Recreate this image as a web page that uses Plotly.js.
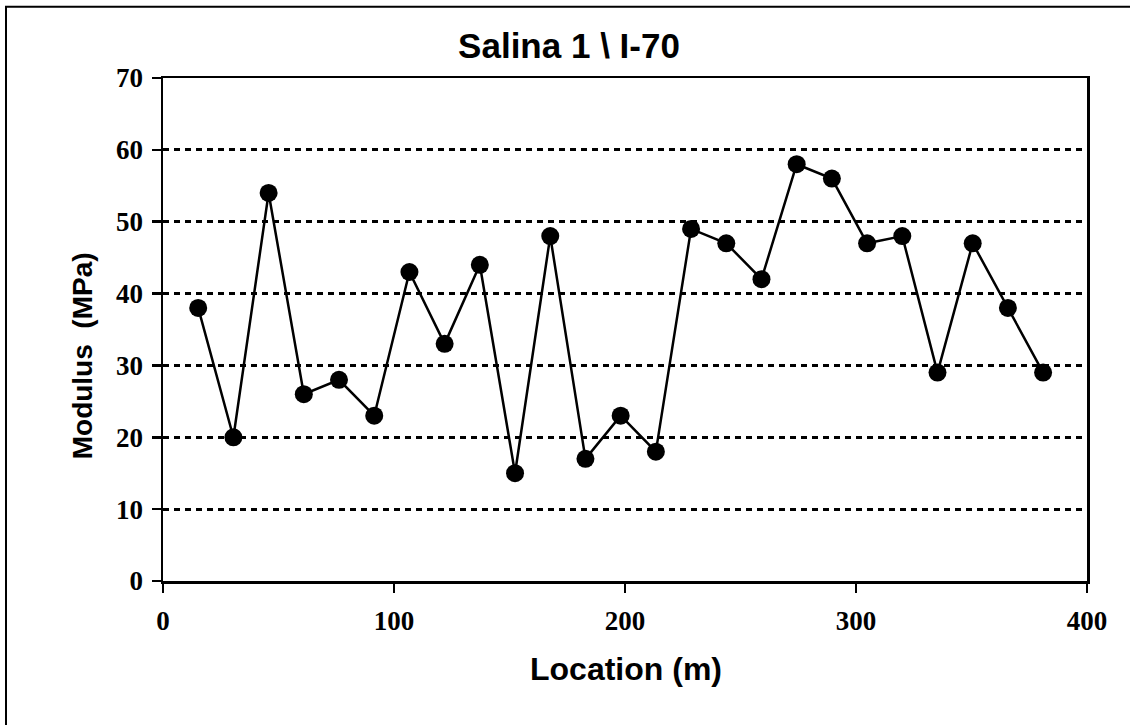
<!DOCTYPE html>
<html>
<head>
<meta charset="utf-8">
<script src="https://cdn.plot.ly/plotly-3.0.1.min.js"></script>
<style>
  html, body { margin: 0; padding: 0; background: #ffffff; }
  #chart { width: 1130px; height: 725px; }
</style>
</head>
<body>
<div id="chart"></div>
<script>
// Chart data
const locations = [15.24, 30.48, 45.72, 60.96, 76.2, 91.44, 106.68, 121.92, 137.16, 152.4,
                   167.64, 182.88, 198.12, 213.36, 228.6, 243.84, 259.08, 274.32, 289.56, 304.8,
                   320.04, 335.28, 350.52, 365.76, 381.0];
const modulus = [38, 20, 54, 26, 28, 23, 43, 33, 44, 15,
                 48, 17, 23, 18, 49, 47, 42, 58, 56, 47,
                 48, 29, 47, 38, 29];
const xTicks = [0, 100, 200, 300, 400];
const yTicks = [0, 10, 20, 30, 40, 50, 60, 70];
const chartTitle = "Salina 1 \\ I-70";
const xTitle = "Location (m)";
const yTitle = "Modulus\u00a0\u00a0(MPa)";

const tickFont = { family: "Liberation Serif, Times New Roman, serif", size: 27, color: "#000000", weight: "bold" };
const titleFontFamily = "Liberation Sans, Arial, sans-serif";

const trace = {
  x: locations,
  y: modulus,
  type: "scatter",
  mode: "lines+markers",
  line: { color: "#000000", width: 2.5 },
  marker: { color: "#000000", size: 18, symbol: "circle" },
  showlegend: false,
  hoverinfo: "x+y"
};

const layout = {
  width: 1130,
  height: 725,
  margin: { l: 163, r: 43, t: 78, b: 144, pad: 0 },
  paper_bgcolor: "#ffffff",
  plot_bgcolor: "#ffffff",
  showlegend: false,
  title: {
    text: "<b>" + chartTitle + "</b>",
    font: { family: titleFontFamily, size: 35, color: "#000000" },
    xref: "container", yref: "container",
    x: 569 / 1130, y: 1 - 46 / 725,
    xanchor: "center", yanchor: "middle"
  },
  xaxis: {
    range: [0, 400],
    tickmode: "array",
    tickvals: xTicks,
    ticktext: xTicks.map(String),
    ticks: "outside",
    ticklen: 9,
    tickwidth: 2.5,
    tickcolor: "#000000",
    tickfont: tickFont,
    ticklabelstandoff: 5,
    showline: true,
    linecolor: "#000000",
    linewidth: 2.5,
    mirror: true,
    showgrid: false,
    zeroline: false,
    fixedrange: true
  },
  yaxis: {
    range: [0, 70],
    tickmode: "array",
    tickvals: yTicks,
    ticktext: yTicks.map(String),
    ticks: "outside",
    ticklen: 9,
    tickwidth: 2.5,
    tickcolor: "#000000",
    tickfont: tickFont,
    ticklabelstandoff: 3,
    showline: true,
    linecolor: "#000000",
    linewidth: 2.5,
    mirror: true,
    showgrid: true,
    gridcolor: "#000000",
    gridwidth: 3,
    griddash: "6px,5px",
    zeroline: false,
    fixedrange: true
  },
  annotations: [
    {
      text: "<b>" + xTitle + "</b>",
      xref: "paper", yref: "paper",
      x: 626 / 924 - 163 / 924, y: (580.7 - 669) / 503,
      xanchor: "center", yanchor: "middle",
      showarrow: false,
      font: { family: titleFontFamily, size: 32, color: "#000000" }
    },
    {
      text: "<b>" + yTitle + "</b>",
      xref: "paper", yref: "paper",
      x: (82 - 163) / 924, y: (580.7 - 356) / 503,
      xanchor: "center", yanchor: "middle",
      textangle: -90,
      showarrow: false,
      font: { family: titleFontFamily, size: 28, color: "#000000" }
    }
  ],
  shapes: [
    {
      type: "rect",
      xref: "paper", yref: "paper",
      x0: (6 - 163) / 924, x1: (1145 - 163) / 924,
      y0: (580.7 - 740) / 503, y1: (580.7 - 6.5) / 503,
      line: { color: "#000000", width: 2 },
      fillcolor: "rgba(0,0,0,0)",
      layer: "below"
    }
  ]
};

Plotly.newPlot("chart", [trace], layout, { displayModeBar: false, staticPlot: true });
</script>
</body>
</html>
